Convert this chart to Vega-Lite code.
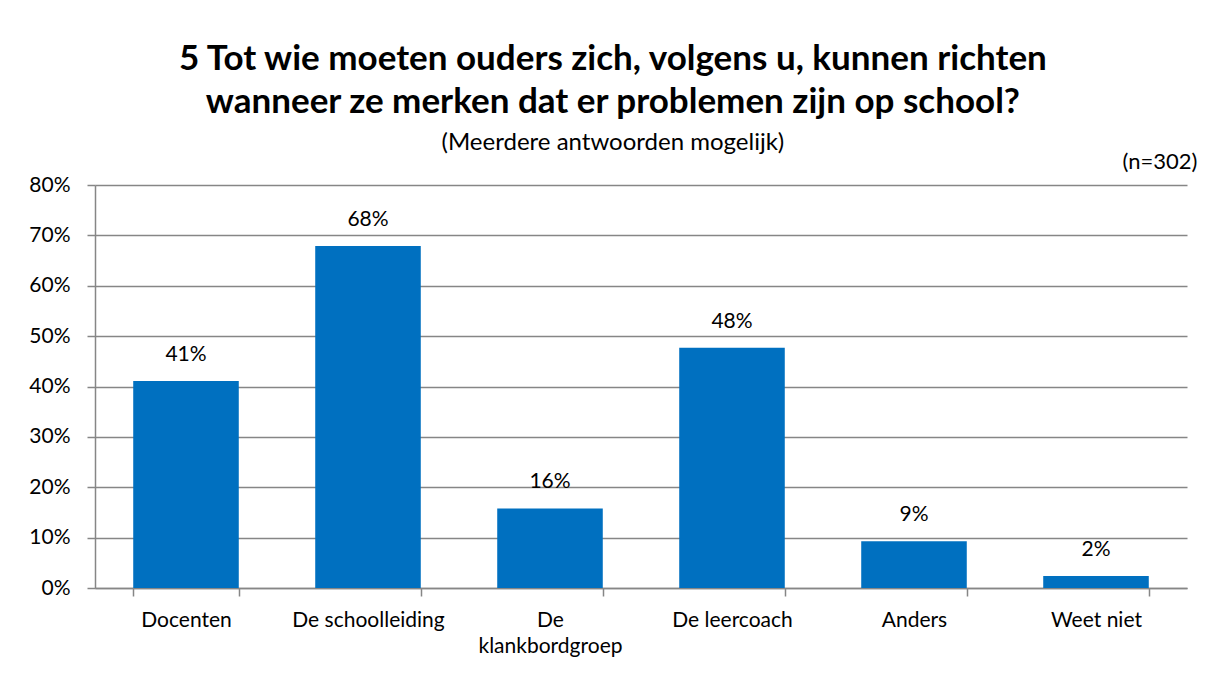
{
  "$schema": "https://vega.github.io/schema/vega-lite/v6.json",
  "width": 1092,
  "height": 403,
  "autosize": "none",
  "padding": {"left": 95, "top": 185, "right": 26, "bottom": 96},
  "background": "white",
  "config": {"view": {"stroke": null}, "font": "Lato"},
  "title": {
    "text": ["5 Tot wie moeten ouders zich, volgens u, kunnen richten", "wanneer ze merken dat er problemen zijn op school?"],
    "subtitle": "(Meerdere antwoorden mogelijk)",
    "font": "Lato",
    "fontSize": 35,
    "fontWeight": "bold",
    "color": "black",
    "lineHeight": 43,
    "subtitleFont": "Lato",
    "subtitleFontSize": 24,
    "subtitleColor": "black",
    "subtitlePadding": 11,
    "anchor": "middle",
    "frame": "bounds",
    "offset": -5
  },
  "data": {
    "values": [
      {"cat": "Docenten", "pct": 0.411},
      {"cat": "De schoolleiding", "pct": 0.679},
      {"cat": "De klankbordgroep", "pct": 0.158},
      {"cat": "De leercoach", "pct": 0.477},
      {"cat": "Anders", "pct": 0.093},
      {"cat": "Weet niet", "pct": 0.024}
    ]
  },
  "layer": [
    {
      "mark": {"type": "bar", "color": "#0070C0"},
      "encoding": {
        "x": {
          "field": "cat", "type": "nominal", "sort": null,
          "scale": {"paddingInner": 0.42, "paddingOuter": 0.21},
          "axis": {
            "title": null, "labelAngle": 0, "labelFontSize": 21, "labelColor": "black",
            "labelExpr": "datum.value == 'De klankbordgroep' ? ['De', 'klankbordgroep'] : datum.value",
            "labelLineHeight": 26, "labelPadding": 13,
            "tickBand": "extent", "tickSize": 8, "tickColor": "#868686", "tickWidth": 1.5,
            "domainColor": "#868686", "domainWidth": 1.5, "grid": false
          }
        },
        "y": {
          "field": "pct", "type": "quantitative",
          "scale": {"domain": [0, 0.8], "nice": false},
          "axis": {
            "title": null, "format": ".0%", "values": [0, 0.1, 0.2, 0.3, 0.4, 0.5, 0.6, 0.7, 0.8],
            "labelFontSize": 21, "labelColor": "black", "labelPadding": 17,
            "tickSize": 8, "tickColor": "#868686", "tickWidth": 1.5,
            "domainColor": "#868686", "domainWidth": 1.5,
            "grid": true, "gridColor": "#868686", "gridWidth": 1.5
          }
        }
      }
    },
    {
      "mark": {"type": "text", "fontSize": 21, "color": "black", "baseline": "middle", "dy": -26},
      "encoding": {
        "x": {
          "field": "cat", "type": "nominal", "sort": null,
          "axis": {
            "orient": "top", "title": "(n=302)", "labels": false, "ticks": false, "domain": false, "grid": false,
            "titleFontSize": 22, "titleFontWeight": "normal", "titleColor": "black",
            "titleAnchor": "end", "titleAlign": "right", "titleX": 1102, "titleY": -17, "titleBaseline": "alphabetic"
          }
        },
        "y": {"field": "pct", "type": "quantitative"},
        "text": {"field": "pct", "format": ".0%"}
      }
    }
  ],
  "resolve": {"axis": {"x": "independent"}}
}
